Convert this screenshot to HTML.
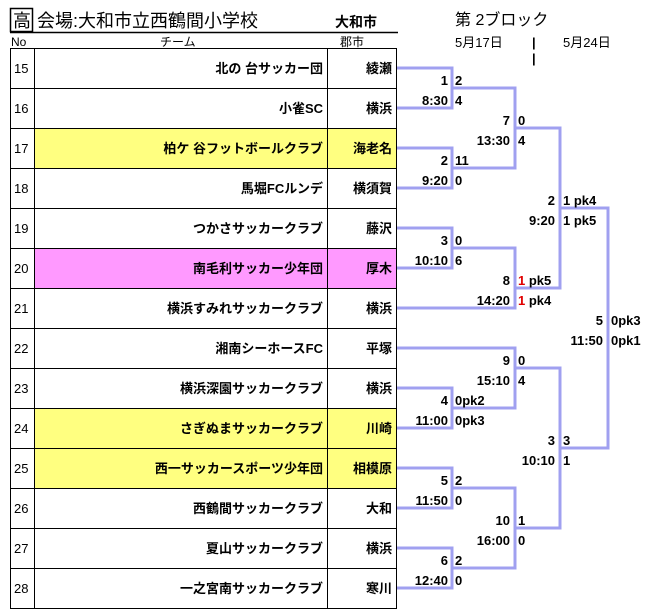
<!DOCTYPE html>
<html><head><meta charset="utf-8"><style>
html,body{margin:0;padding:0;background:#fff;}
svg{display:block;}
text{font-family:"Liberation Sans","Noto Sans CJK JP",sans-serif;fill:#000;}
</style></head><body>
<svg width="659" height="613" viewBox="0 0 659 613" xmlns="http://www.w3.org/2000/svg">
<!-- header -->
<rect x="10.5" y="8.5" width="22" height="23" fill="none" stroke="#000" stroke-width="1.5"/>
<text x="13" y="27" font-size="18">高</text>
<text x="37" y="27" font-size="18">会場:大和市立西鶴間小学校</text>
<text x="335" y="27" font-size="14" font-weight="bold">大和市</text>
<line x1="10" y1="32.5" x2="398" y2="32.5" stroke="#000" stroke-width="1.5"/>
<text x="455" y="25" font-size="16">第 2ブロック</text>
<text x="455" y="47" font-size="13">5月17日</text>
<text x="532" y="47" font-size="13" font-weight="bold">|</text>
<text x="532" y="63" font-size="13" font-weight="bold">|</text>
<text x="563" y="47" font-size="13">5月24日</text>
<text x="11" y="46" font-size="12">No</text>
<text x="160" y="46" font-size="12">チーム</text>
<text x="340" y="46" font-size="12">郡市</text>
<!-- rows backgrounds -->
<rect x="34" y="128" width="363" height="40" fill="#ffff80"/>
<rect x="34" y="248" width="363" height="40" fill="#ff99ff"/>
<rect x="34" y="408" width="363" height="80" fill="#ffff80"/>
<g stroke="#000" stroke-width="1" fill="none">
<rect x="10.5" y="48.5" width="386" height="560"/>
<line x1="34.5" y1="48" x2="34.5" y2="609"/>
<line x1="327.5" y1="48" x2="327.5" y2="609"/>
<line x1="10" y1="88.5" x2="397" y2="88.5"/><line x1="10" y1="128.5" x2="397" y2="128.5"/>
<line x1="10" y1="168.5" x2="397" y2="168.5"/><line x1="10" y1="208.5" x2="397" y2="208.5"/>
<line x1="10" y1="248.5" x2="397" y2="248.5"/><line x1="10" y1="288.5" x2="397" y2="288.5"/>
<line x1="10" y1="328.5" x2="397" y2="328.5"/><line x1="10" y1="368.5" x2="397" y2="368.5"/>
<line x1="10" y1="408.5" x2="397" y2="408.5"/><line x1="10" y1="448.5" x2="397" y2="448.5"/>
<line x1="10" y1="488.5" x2="397" y2="488.5"/><line x1="10" y1="528.5" x2="397" y2="528.5"/>
<line x1="10" y1="568.5" x2="397" y2="568.5"/>
</g>
<g font-size="13">
<text x="14" y="73">15</text><text x="14" y="113">16</text><text x="14" y="153">17</text><text x="14" y="193">18</text>
<text x="14" y="233">19</text><text x="14" y="273">20</text><text x="14" y="313">21</text><text x="14" y="353">22</text>
<text x="14" y="393">23</text><text x="14" y="433">24</text><text x="14" y="473">25</text><text x="14" y="513">26</text>
<text x="14" y="553">27</text><text x="14" y="593">28</text>
</g>
<g font-size="13" font-weight="bold" text-anchor="end">
<text x="323" y="73">北の 台サッカー団</text><text x="392" y="73">綾瀬</text>
<text x="323" y="113">小雀SC</text><text x="392" y="113">横浜</text>
<text x="323" y="153">柏ケ 谷フットボールクラブ</text><text x="392" y="153">海老名</text>
<text x="323" y="193">馬堀FCルンデ</text><text x="392" y="193">横須賀</text>
<text x="323" y="233">つかさサッカークラブ</text><text x="392" y="233">藤沢</text>
<text x="323" y="273">南毛利サッカー少年団</text><text x="392" y="273">厚木</text>
<text x="323" y="313">横浜すみれサッカークラブ</text><text x="392" y="313">横浜</text>
<text x="323" y="353">湘南シーホースFC</text><text x="392" y="353">平塚</text>
<text x="323" y="393">横浜深園サッカークラブ</text><text x="392" y="393">横浜</text>
<text x="323" y="433">さぎぬまサッカークラブ</text><text x="392" y="433">川崎</text>
<text x="323" y="473">西一サッカースポーツ少年団</text><text x="392" y="473">相模原</text>
<text x="323" y="513">西鶴間サッカークラブ</text><text x="392" y="513">大和</text>
<text x="323" y="553">夏山サッカークラブ</text><text x="392" y="553">横浜</text>
<text x="323" y="593">一之宮南サッカークラブ</text><text x="392" y="593">寒川</text>
</g>
<!-- bracket -->
<g stroke="#a0a0f0" stroke-width="3" fill="none">
<polyline points="397,68 452,68 452,108 397,108"/>
<polyline points="397,148 452,148 452,188 397,188"/>
<polyline points="397,228 452,228 452,268 397,268"/>
<polyline points="397,388 452,388 452,428 397,428"/>
<polyline points="397,468 452,468 452,508 397,508"/>
<polyline points="397,548 452,548 452,588 397,588"/>
<polyline points="452,88 515,88 515,168 452,168"/>
<polyline points="452,248 515,248 515,308 397,308"/>
<polyline points="397,348 515,348 515,408 452,408"/>
<polyline points="452,488 515,488 515,568 452,568"/>
<polyline points="515,128 560,128 560,288 515,288"/>
<polyline points="515,368 560,368 560,528 515,528"/>
<polyline points="560,208 608,208 608,448 560,448"/>
</g>
<g font-size="13" font-weight="bold">
<g text-anchor="end">
<text x="448" y="85">1</text><text x="448" y="105">8:30</text>
<text x="448" y="165">2</text><text x="448" y="185">9:20</text>
<text x="448" y="245">3</text><text x="448" y="265">10:10</text>
<text x="448" y="405">4</text><text x="448" y="425">11:00</text>
<text x="448" y="485">5</text><text x="448" y="505">11:50</text>
<text x="448" y="565">6</text><text x="448" y="585">12:40</text>
<text x="510" y="125">7</text><text x="510" y="145">13:30</text>
<text x="510" y="285">8</text><text x="510" y="305">14:20</text>
<text x="510" y="365">9</text><text x="510" y="385">15:10</text>
<text x="510" y="525">10</text><text x="510" y="545">16:00</text>
<text x="555" y="205">2</text><text x="555" y="225">9:20</text>
<text x="555" y="445">3</text><text x="555" y="465">10:10</text>
<text x="603" y="325">5</text><text x="603" y="345">11:50</text>
</g>
<text x="455" y="85">2</text><text x="455" y="105">4</text>
<text x="455" y="165">11</text><text x="455" y="185">0</text>
<text x="455" y="245">0</text><text x="455" y="265">6</text>
<text x="455" y="405">0pk2</text><text x="455" y="425">0pk3</text>
<text x="455" y="485">2</text><text x="455" y="505">0</text>
<text x="455" y="565">2</text><text x="455" y="585">0</text>
<text x="518" y="125">0</text><text x="518" y="145">4</text>
<text x="518" y="285"><tspan fill="#e00000">1</tspan> pk5</text><text x="518" y="305"><tspan fill="#e00000">1</tspan> pk4</text>
<text x="518" y="365">0</text><text x="518" y="385">4</text>
<text x="518" y="525">1</text><text x="518" y="545">0</text>
<text x="563" y="205">1 pk4</text><text x="563" y="225">1 pk5</text>
<text x="563" y="445">3</text><text x="563" y="465">1</text>
<text x="611" y="325">0pk3</text><text x="611" y="345">0pk1</text>
</g>
</svg>
</body></html>
